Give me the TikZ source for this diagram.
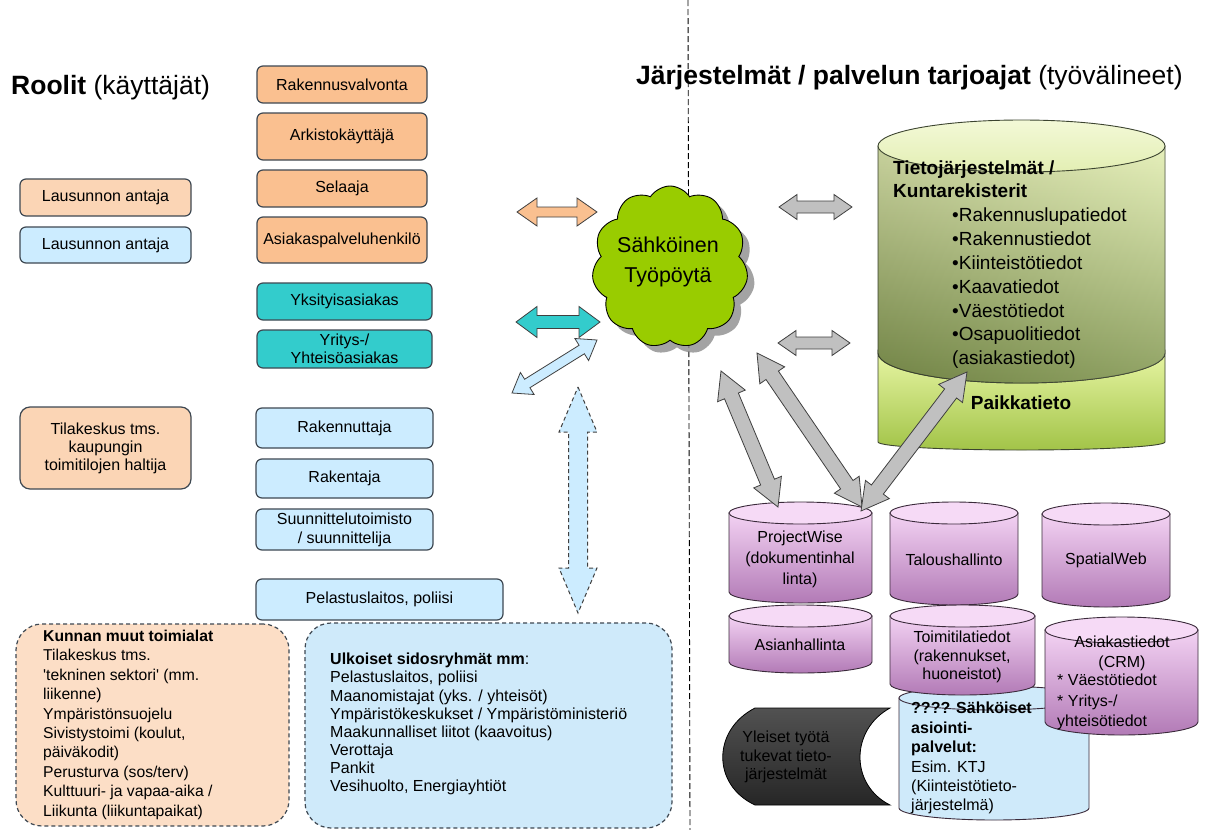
\documentclass[tikz,border=0pt]{standalone}
\usepackage{fontspec}
\setmainfont{Liberation Sans}
\usetikzlibrary{calc,shapes.symbols,shadows}

\definecolor{boxline}{HTML}{3E4852}
\definecolor{orA}{HTML}{FAC090}
\definecolor{orB}{HTML}{FBD5B5}
\definecolor{orC}{HTML}{FCDEC6}
\definecolor{blA}{HTML}{CCECFF}
\definecolor{blB}{HTML}{CFEAFA}
\definecolor{tealA}{HTML}{33CCCC}
\definecolor{cloudG}{HTML}{99CC00}
\definecolor{grayA}{HTML}{C0C0C0}
\definecolor{arrline}{HTML}{404040}
\definecolor{purpT}{HTML}{F3D2F3}
\definecolor{purpM}{HTML}{DDA6DD}
\definecolor{purpB}{HTML}{B27AB6}
\definecolor{purpE}{HTML}{F6DAF6}
\definecolor{drumline}{HTML}{3A2A3A}
\definecolor{grnTop}{HTML}{EEF6C6}
\definecolor{grnA}{HTML}{E3EEB2}
\definecolor{grnB}{HTML}{80954E}
\definecolor{grnC}{HTML}{E6F4A2}
\definecolor{grnD}{HTML}{A2C448}
\definecolor{grnLine}{HTML}{3C4430}

\newcommand{\setfs}[2]{\fontsize{#1}{#2}\selectfont}

% double-headed block arrow between two named points:
% [style]{from}{to}{shaft half width}{head half width}{head length}
\newcommand{\blockarrow}[6][]{%
  \path (#2) coordinate (ba-a) (#3) coordinate (ba-b);
  \path ($(ba-a)!#6pt!(ba-b)$) coordinate (ba-ha)
        ($(ba-b)!#6pt!(ba-a)$) coordinate (ba-hb);
  \draw[#1] (ba-a)
    -- ($(ba-ha)!#5pt!90:(ba-b)$) -- ($(ba-ha)!#4pt!90:(ba-b)$)
    -- ($(ba-hb)!#4pt!-90:(ba-a)$) -- ($(ba-hb)!#5pt!-90:(ba-a)$)
    -- (ba-b)
    -- ($(ba-hb)!#5pt!90:(ba-a)$) -- ($(ba-hb)!#4pt!90:(ba-a)$)
    -- ($(ba-ha)!#4pt!-90:(ba-b)$) -- ($(ba-ha)!#5pt!-90:(ba-b)$)
    -- cycle;}

% upright drum (database) shape: {body style}{lid style}{left}{right}{top}{bottom}{lid radius}
\newcommand{\drumshape}[7]{%
  \pgfmathsetmacro{\drumrx}{(#4-#3)/2}%
  \pgfmathsetmacro{\drumcx}{(#4+#3)/2}%
  \path[#1] (#3,#5+#7) -- (#3,#6-#7)
     arc[start angle=180,end angle=360,x radius=\drumrx pt,y radius=#7pt]
     -- (#4,#5+#7) -- cycle;
  \path[#2] (\drumcx,#5+#7) ellipse[x radius=\drumrx pt,y radius=#7pt];}

\begin{document}
\begin{tikzpicture}[x=1pt,y=-1pt,
  role/.style={draw=boxline, line width=1.2pt, rounded corners=6pt, inner sep=0pt,
    align=center, font=\setfs{16}{18}},
  dashbox/.style={draw=boxline, line width=1.2pt, dash pattern=on 4pt off 3pt,
    rounded corners=26pt},
  plain/.style={inner sep=0pt, align=left},
  arrowline/.style={draw=arrline, line width=0.8pt, line join=miter},
  greyarrow/.style={arrowline, fill=grayA},
  pbody/.style={draw=drumline, line width=0.9pt, top color=purpT, middle color=purpM, bottom color=purpB},
  plid/.style={draw=drumline, line width=0.9pt, fill=purpE},
  drumtext/.style={inner sep=0pt, align=center, font=\setfs{16}{21}},
  divider/.style={line width=0.9pt, dash pattern=on 6pt off 3pt}]

\useasboundingbox (0,0) rectangle (1208,830);
\fill[white] (0,0) rectangle (1208,830);

% ---------------- dividing line ----------------
\coordinate (divtop) at (688,0);
\coordinate (divbot) at (690,830);
\draw[divider] (divtop) -- (divbot);

% ---------------- headings ----------------
\node[plain, anchor=west, font=\setfs{26.5}{30}] (hroles) at (11,88) {\textbf{Roolit} (käyttäjät)};
\node[plain, anchor=west, font=\setfs{26.5}{30}] (hsys) at (636,78)
  {\textbf{Järjestelmät / palvelun tarjoajat} (työvälineet)};

% ---------------- roles ----------------
\node[role, fill=orA, minimum width=170pt, minimum height=37pt] (rv)  at (342,84.5) {Rakennusvalvonta};
\node[role, fill=orA, minimum width=170pt, minimum height=47pt] (ark) at (342,136.5) {Arkistokäyttäjä};
\node[role, fill=orA, minimum width=170pt, minimum height=37pt] (sel) at (342,188.5) {Selaaja};
\node[role, fill=orA, minimum width=170pt, minimum height=46pt] (asp) at (342,240) {Asiakaspalveluhenkilö};
\node[role, fill=tealA, minimum width=175pt, minimum height=37pt] (yks) at (344.5,301.5) {Yksityisasiakas};
\node[role, fill=tealA, minimum width=175pt, minimum height=38pt] (yri) at (344.5,349) {Yritys-/\\Yhteisöasiakas};

\node[role, fill=orB, minimum width=171pt, minimum height=37pt] (la1) at (105.5,197.5) {Lausunnon antaja};
\node[role, fill=blA, minimum width=171pt, minimum height=36pt] (la2) at (105.5,245) {Lausunnon antaja};
\node[role, fill=orB, rounded corners=10pt, minimum width=171pt, minimum height=82pt, font=\setfs{16}{18}]
  (tila) at (105.5,448) {Tilakeskus tms.\\kaupungin\\toimitilojen haltija};

\node[role, fill=blA, minimum width=177pt, minimum height=40pt] (rkt) at (344.5,428) {Rakennuttaja};
\node[role, fill=blA, minimum width=177pt, minimum height=39pt] (rkj) at (344.5,478.5) {Rakentaja};
\node[role, fill=blA, minimum width=177pt, minimum height=41pt, font=\setfs{16}{19}] (suu) at (344.5,529.5)
  {Suunnittelutoimisto\\/ suunnittelija};
\node[role, fill=blA, minimum width=247pt, minimum height=41pt] (pel) at (379.5,599.5) {Pelastuslaitos, poliisi};

% ---------------- stakeholder groups ----------------
\node[dashbox, fill=orC, minimum width=273pt, minimum height=202pt] (kunnan) at (152.5,725) {};
\node[plain, anchor=north west, font=\setfs{15.7}{19.4}] (kunnantxt) at (43,630)
  {\textbf{Kunnan muut toimialat}\\
   Tilakeskus tms.\\
   \textquotesingle tekninen sektori\textquotesingle\ (mm.\\
   liikenne)\\
   Ympäristönsuojelu\\
   Sivistystoimi (koulut,\\
   päiväkodit)\\
   Perusturva (sos/terv)\\
   Kulttuuri- ja vapaa-aika /\\
   Liikunta (liikuntapaikat)};

\node[dashbox, fill=blB, minimum width=367pt, minimum height=205pt] (ulk) at (488.5,725.5) {};
\node[plain, anchor=north west, font=\setfs{16}{18.1}] (ulktxt) at (330,653)
  {\textbf{Ulkoiset sidosryhmät mm}:\\
   Pelastuslaitos, poliisi\\
   Maanomistajat (yks. / yhteisöt)\\
   Ympäristökeskukset / Ympäristöministeriö\\
   Maakunnalliset liitot (kaavoitus)\\
   Verottaja\\
   Pankit\\
   Vesihuolto, Energiayhtiöt};

% ---------------- desktop cloud ----------------
\node[cloud, cloud puffs=11, cloud puff arc=115, aspect=1.05, draw=black, line width=0.9pt,
      fill=cloudG, minimum width=156pt, minimum height=162pt, inner sep=0pt,
      drop shadow={shadow xshift=7pt, shadow yshift=-7pt, fill=black!45, opacity=0.8}]
  (desk) at (670,267) {};
\node[inner sep=0pt, align=center, font=\setfs{21.5}{30}] (desktxt) at (668,262) {Sähköinen\\Työpöytä};

% ---------------- registers drum ----------------
% lower band (Paikkatieto)
\path[draw=grnLine, line width=0.9pt, top color=grnC, bottom color=grnD]
  (878,353) -- (878,442) arc[start angle=180,end angle=360,x radius=143.5pt,y radius=8pt]
  -- (1165,353) arc[start angle=0,end angle=-180,x radius=143.5pt,y radius=30pt] -- cycle;
% upper body (registers)
\path[draw=grnLine, line width=0.9pt, top color=grnA, bottom color=grnB]
  (878,146) -- (878,353) arc[start angle=180,end angle=360,x radius=143.5pt,y radius=30pt]
  -- (1165,146) -- cycle;
\path[left color=black, right color=white, fill opacity=0.12]
  (878,146) -- (878,353) arc[start angle=180,end angle=360,x radius=143.5pt,y radius=30pt]
  -- (1165,146) -- cycle;
\path[draw=grnLine, line width=0.9pt, top color=grnTop!70!white, bottom color=grnTop!85!grnD]
  (1021.5,146) ellipse[x radius=143.5pt,y radius=26pt];

\node[plain, anchor=north west, font=\bfseries\setfs{19}{22.5}] (regtitle) at (893,161)
  {Tietojärjestelmät /\\Kuntarekisterit};
\node[plain, anchor=north west, font=\setfs{19}{23.8}] (reglist) at (952,208)
  {•Rakennuslupatiedot\\
   •Rakennustiedot\\
   •Kiinteistötiedot\\
   •Kaavatiedot\\
   •Väestötiedot\\
   •Osapuolitiedot\\
   (asiakastiedot)};
\node[inner sep=0pt, font=\bfseries\setfs{19}{22}] (paikka) at (1021,403) {Paikkatieto};

% ---------------- e-service drum (behind) ----------------
\drumshape{draw=drumline, line width=0.9pt, fill=blB}{draw=drumline, line width=0.9pt, fill=blB}{899}{1089}{686}{820}{12}
\node[plain, anchor=north west, font=\setfs{16}{19.4}] (esrv) at (911,702)
  {\textbf{???? Sähköiset}\\
   \textbf{asiointi-}\\
   \textbf{palvelut:}\\
   Esim. KTJ\\
   (Kiinteistötieto-\\
   järjestelmä)};

% ---------------- application drums ----------------
\drumshape{pbody}{plid}{729}{872}{502}{603}{11}
\node[drumtext] (pw) at (800,559) {ProjectWise\\(dokumentinhal\\linta)};
\drumshape{pbody}{plid}{890}{1018}{502}{605}{11}
\node[drumtext] (talo) at (954,560) {Taloushallinto};
\drumshape{pbody}{plid}{1042}{1170}{503}{607}{11}
\node[drumtext] (spw) at (1106,560) {SpatialWeb};
\drumshape{pbody}{plid}{729}{872}{605}{673}{11}
\node[drumtext] (asia) at (800,645) {Asianhallinta};
\drumshape{pbody}{plid}{890}{1035}{605}{695}{11}
\node[drumtext, font=\setfs{16}{18.5}] (toim) at (962,657) {Toimitilatiedot\\(rakennukset,\\huoneistot)};
\drumshape{pbody}{plid}{1045}{1198}{617}{735}{13}
\node[drumtext, font=\setfs{16}{20}] (crm) at (1122,653) {Asiakastiedot\\(CRM)};
\node[plain, anchor=north west, font=\setfs{16}{20.5}] (crmlist) at (1057,674)
  {* Väestötiedot\\* Yritys-/\\yhteisötiedot};

% ---------------- general support systems ----------------
\path[draw=black, line width=0.8pt, top color=black!68, middle color=black!15, bottom color=black!85]
  (755,708) -- (890,708) .. controls (850,730) and (850,785) .. (890,805)
  -- (755,805) .. controls (712,785) and (712,730) .. (755,708) -- cycle;
\node[drumtext, font=\setfs{16}{18.5}] (yleiset) at (786,757) {Yleiset työtä\\tukevat tieto-\\järjestelmät};

% ---------------- arrows: roles to desktop ----------------
\coordinate (orL) at (517,212);  \coordinate (orR) at (597,212);
\blockarrow[arrowline, fill=orA]{orL}{orR}{5}{14}{20}
\coordinate (teL) at (516,322);  \coordinate (teR) at (600,322);
\blockarrow[arrowline, fill=tealA]{teL}{teR}{6.5}{15.5}{21}
\coordinate (blL) at (512,393);  \coordinate (blR) at (597,340);
\blockarrow[arrowline, fill=blA]{blL}{blR}{5}{13}{18}
\coordinate (vdT) at (578,387);  \coordinate (vdB) at (578,613);
\blockarrow[arrowline, fill=blA, dash pattern=on 4pt off 3pt, line width=1pt]{vdT}{vdB}{9.5}{19}{45}

% ---------------- arrows: desktop to systems ----------------
\coordinate (g1L) at (779,207);  \coordinate (g1R) at (852,207);
\blockarrow[greyarrow]{g1L}{g1R}{6}{12.5}{18}
\coordinate (g2L) at (778,343);  \coordinate (g2R) at (850,343);
\blockarrow[greyarrow]{g2L}{g2R}{6}{12.5}{18}
\coordinate (gAt) at (721,371);  \coordinate (gAb) at (778,507);
\blockarrow[greyarrow]{gAt}{gAb}{7.5}{15}{27}
\coordinate (gBt) at (757,353);  \coordinate (gBb) at (862,507);
\blockarrow[greyarrow]{gBt}{gBb}{7.5}{15}{27}
\coordinate (gCt) at (967,372);  \coordinate (gCb) at (861,511);
\blockarrow[greyarrow]{gCt}{gCb}{7.5}{15}{27}

\end{tikzpicture}
\end{document}
